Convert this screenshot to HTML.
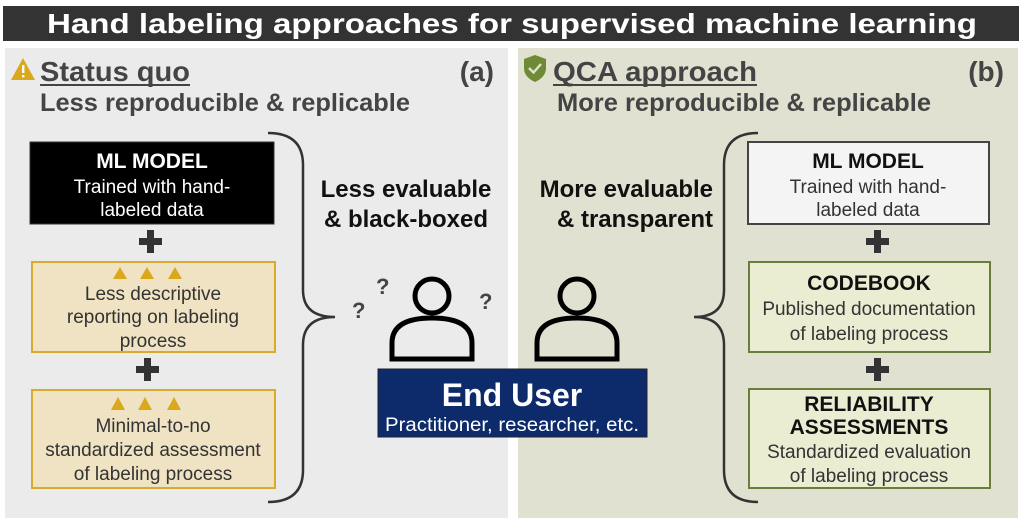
<!DOCTYPE html>
<html><head><meta charset="utf-8"><style>
body{margin:0;width:1024px;height:524px;background:#fff;overflow:hidden;font-family:"Liberation Sans",Arial,sans-serif}
svg{position:absolute;left:0;top:0}
</style></head><body>
<svg width="1024" height="524" viewBox="0 0 1024 524" style="font-family:'Liberation Sans',Arial,sans-serif">
<rect x="3" y="6" width="1016" height="35" fill="#333"/>
<text x="512" y="33" fill="#fff" font-size="28" font-weight="bold" text-anchor="middle" textLength="930" lengthAdjust="spacingAndGlyphs">Hand labeling approaches for supervised machine learning</text>
<rect x="5" y="48" width="503" height="470" fill="#ebebeb"/>
<rect x="518" y="48" width="500" height="470" fill="#e1e1d2"/>
<!-- left header -->
<path d="M23 58 L35 80 L11 80 Z" fill="#dba81c"/>
<rect x="22" y="65" width="2.4" height="8" fill="#fff"/><rect x="22" y="75" width="2.4" height="2.4" fill="#fff"/>
<text x="40" y="81" font-size="28" font-weight="bold" fill="#444" textLength="150" lengthAdjust="spacingAndGlyphs">Status quo</text>
<rect x="40" y="84" width="150" height="2" fill="#444"/>
<text x="494" y="81" font-size="28" font-weight="bold" fill="#444" text-anchor="end">(a)</text>
<text x="40" y="111" font-size="25" font-weight="bold" fill="#444" textLength="370" lengthAdjust="spacingAndGlyphs">Less reproducible &amp; replicable</text>
<!-- right header -->
<path d="M535 55 L546 59 L546 68 Q546 77 535 82 Q524 77 524 68 L524 59 Z" fill="#6f8a35"/>
<path d="M529 68 L533.5 72.5 L541 64" stroke="#e1e1d2" stroke-width="2.4" fill="none"/>
<text x="553" y="81" font-size="28" font-weight="bold" fill="#444" textLength="204" lengthAdjust="spacingAndGlyphs">QCA approach</text>
<rect x="553" y="84" width="204" height="2" fill="#444"/>
<text x="1004" y="81" font-size="28" font-weight="bold" fill="#444" text-anchor="end">(b)</text>
<text x="557" y="111" font-size="25" font-weight="bold" fill="#444" textLength="374" lengthAdjust="spacingAndGlyphs">More reproducible &amp; replicable</text>
<!-- left boxes -->
<rect x="30" y="142" width="244" height="82" fill="#000" stroke="#333"/>
<text x="152" y="168" font-size="21" font-weight="bold" fill="#fff" text-anchor="middle">ML MODEL</text>
<text x="152" y="193" font-size="19" fill="#fff" text-anchor="middle">Trained with hand-</text>
<text x="152" y="216" font-size="19" fill="#fff" text-anchor="middle">labeled data</text>
<g fill="#333"><rect x="139" y="238" width="23" height="7"/><rect x="147" y="230" width="7" height="23"/>
<rect x="136" y="366" width="23" height="7"/><rect x="144" y="358" width="7" height="23"/>
<rect x="866" y="238" width="23" height="7"/><rect x="874" y="230" width="7" height="23"/>
<rect x="866" y="366" width="23" height="7"/><rect x="874" y="358" width="7" height="23"/></g>
<rect x="32" y="262" width="243" height="90" fill="#efe3c3" stroke="#d8aa30" stroke-width="2"/>
<rect x="32" y="390" width="243" height="98" fill="#efe3c3" stroke="#d8aa30" stroke-width="2"/>
<g fill="#dba81c">
<path d="M120 267 L127 279 L113 279Z"/><path d="M147 267 L154 279 L140 279Z"/><path d="M175 267 L182 279 L168 279Z"/>
<path d="M118 397 L125 410 L111 410Z"/><path d="M145 397 L152 410 L138 410Z"/><path d="M174 397 L181 410 L167 410Z"/></g>
<g font-size="19" fill="#333" text-anchor="middle">
<text x="153" y="300">Less descriptive</text>
<text x="153" y="323">reporting on labeling</text>
<text x="153" y="347">process</text>
<text x="153" y="432">Minimal-to-no</text>
<text x="153" y="456">standardized assessment</text>
<text x="153" y="480">of labeling process</text></g>
<!-- left brace -->
<path d="M268 133 Q303 133 303 165 L303 290 Q303 317 335 317 Q303 317 303 345 L303 470 Q303 502 268 502" stroke="#333" stroke-width="2.5" fill="none"/>
<text x="406" y="197" font-size="24" font-weight="bold" fill="#111" text-anchor="middle">Less evaluable</text>
<text x="406" y="227" font-size="24" font-weight="bold" fill="#111" text-anchor="middle">&amp; black-boxed</text>
<!-- right brace -->
<path d="M758 133 Q724 133 724 165 L724 290 Q724 317 694 317 Q724 317 724 345 L724 470 Q724 502 758 502" stroke="#333" stroke-width="2.5" fill="none"/>
<text x="713" y="197" font-size="24" font-weight="bold" fill="#111" text-anchor="end">More evaluable</text>
<text x="713" y="227" font-size="24" font-weight="bold" fill="#111" text-anchor="end">&amp; transparent</text>
<!-- right boxes -->
<rect x="748" y="142" width="241" height="82" fill="#f4f4f4" stroke="#444" stroke-width="2"/>
<text x="868" y="168" font-size="21" font-weight="bold" fill="#111" text-anchor="middle">ML MODEL</text>
<g font-size="19" fill="#333" text-anchor="middle">
<text x="868" y="193">Trained with hand-</text>
<text x="868" y="216">labeled data</text></g>
<rect x="749" y="262" width="241" height="90" fill="#ebedd2" stroke="#6b7d3a" stroke-width="2"/>
<text x="869" y="290" font-size="21" font-weight="bold" fill="#111" text-anchor="middle">CODEBOOK</text>
<g font-size="19" fill="#333" text-anchor="middle">
<text x="869" y="315">Published documentation</text>
<text x="869" y="340">of labeling process</text></g>
<rect x="749" y="389" width="241" height="99" fill="#ebedd2" stroke="#6b7d3a" stroke-width="2"/>
<text x="869" y="411" font-size="21" font-weight="bold" fill="#111" text-anchor="middle">RELIABILITY</text>
<text x="869" y="434" font-size="21" font-weight="bold" fill="#111" text-anchor="middle">ASSESSMENTS</text>
<g font-size="19" fill="#333" text-anchor="middle">
<text x="869" y="458">Standardized evaluation</text>
<text x="869" y="482">of labeling process</text></g>
<!-- persons -->
<g stroke="#000" stroke-width="5" fill="none">
<circle cx="432" cy="296" r="17"/>
<path d="M392 359 L392 343 Q392 318 432 318 Q472 318 472 343 L472 359 Z"/>
<circle cx="577" cy="296" r="17"/>
<path d="M537 359 L537 343 Q537 318 577 318 Q617 318 617 343 L617 359 Z"/>
</g>
<g font-size="22" font-weight="bold" fill="#444">
<text x="352" y="318">?</text><text x="376" y="294">?</text><text x="479" y="309">?</text></g>
<!-- end user -->
<rect x="378" y="369" width="269" height="68" fill="#0d2a6b" stroke="#223" stroke-width="1"/>
<text x="512" y="406" font-size="32" font-weight="bold" fill="#fff" text-anchor="middle">End User</text>
<text x="512" y="431" font-size="19" fill="#fff" text-anchor="middle" textLength="254" lengthAdjust="spacingAndGlyphs">Practitioner, researcher, etc.</text>
</svg>
</body></html>
